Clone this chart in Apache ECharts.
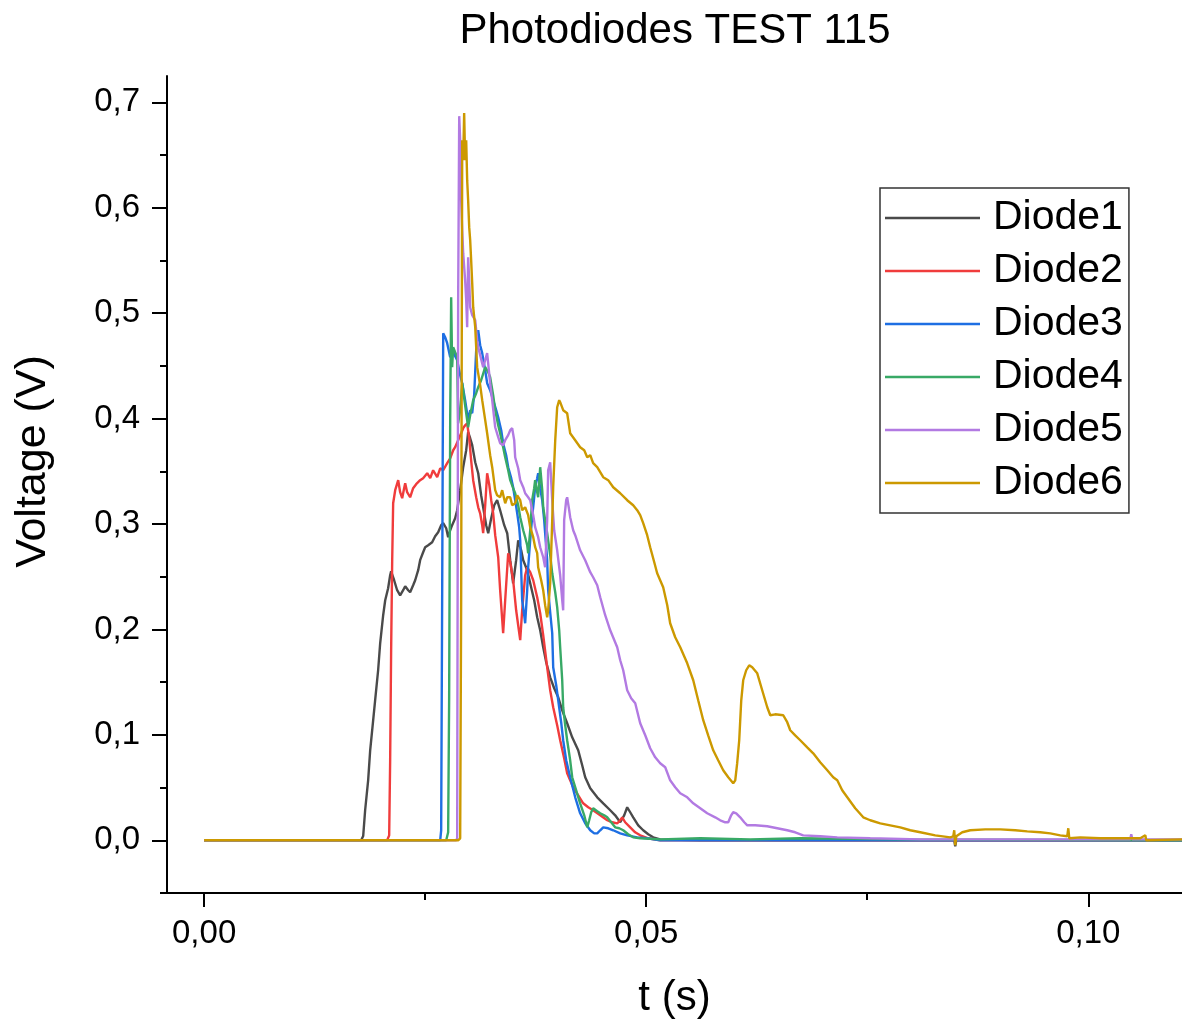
<!DOCTYPE html>
<html><head><meta charset="utf-8">
<script src="https://cdn.jsdelivr.net/npm/echarts@6/dist/echarts.min.js"></script>
<style>html,body{margin:0;padding:0;background:#fff}#c{width:1182px;height:1024px}</style>
</head><body><div id="c"></div>
<script>
const titleText = 'Photodiodes TEST 115';
const seriesNames = ['Diode1','Diode2','Diode3','Diode4','Diode5','Diode6'];
const xMajorTicks = [0, 0.05, 0.10];
const xMinorTicks = [0.025, 0.075];
const yMajorTicks = [0, 0.1, 0.2, 0.3, 0.4, 0.5, 0.6, 0.7];
const yMinorTicks = [-0.05, 0.05, 0.15, 0.25, 0.35, 0.45, 0.55, 0.65];

const diode1 = [[0,0],[0.01776,0],[0.01799,0.004],[0.01821,0.0285],[0.01855,0.0569],[0.01878,0.0854],[0.01912,0.1139],[0.01934,0.1328],[0.01968,0.1613],[0.01991,0.1869],[0.02025,0.2135],[0.02048,0.2277],[0.02081,0.2391],[0.02104,0.2514],[0.02115,0.2552],[0.02149,0.2467],[0.02183,0.2372],[0.02217,0.2324],[0.02251,0.2372],[0.02274,0.2410],[0.02308,0.2372],[0.02330,0.2353],[0.02364,0.2419],[0.02387,0.2467],[0.02421,0.2562],[0.02443,0.2657],[0.02477,0.2732],[0.02500,0.2780],[0.02534,0.2799],[0.02579,0.2827],[0.02613,0.2884],[0.02647,0.2922],[0.02681,0.2989],[0.02704,0.3008],[0.02738,0.2960],[0.02760,0.2875],[0.02783,0.2941],[0.02805,0.2989],[0.02839,0.3055],[0.02862,0.3131],[0.02896,0.3321],[0.02930,0.3539],[0.02964,0.3700],[0.02986,0.3871],[0.03009,0.3814],[0.03032,0.3748],[0.03066,0.3586],[0.03100,0.3482],[0.03133,0.3273],[0.03156,0.3159],[0.03190,0.2989],[0.03213,0.2913],[0.03247,0.3055],[0.03281,0.3178],[0.03314,0.3226],[0.03348,0.3131],[0.03394,0.2989],[0.03428,0.2913],[0.03462,0.2657],[0.03495,0.2438],[0.03529,0.2657],[0.03552,0.2846],[0.03586,0.2751],[0.03609,0.2657],[0.03654,0.2562],[0.03688,0.2438],[0.03733,0.2277],[0.03767,0.2116],[0.03801,0.1992],[0.03835,0.1831],[0.03869,0.1689],[0.03914,0.1546],[0.03959,0.1442],[0.04005,0.1357],[0.04050,0.1233],[0.04106,0.1110],[0.04163,0.0977],[0.04231,0.0854],[0.04276,0.0712],[0.04310,0.0598],[0.04367,0.0493],[0.04446,0.0408],[0.04514,0.0351],[0.04593,0.0285],[0.04649,0.0237],[0.04706,0.0171],[0.04751,0.0237],[0.04785,0.0313],[0.04819,0.0266],[0.04853,0.0218],[0.04910,0.0142],[0.04966,0.0095],[0.05023,0.0057],[0.05079,0.0028],[0.05158,0.0009],[0.05611,0],[0.06742,0],[0.07873,0],[0.08484,0],[0.08495,-0.0057],[0.08507,0],[0.09005,0],[0.11063,0]];

const diode2 = [[0,0],[0.02070,0],[0.02093,0.0047],[0.02104,0.0759],[0.02115,0.1803],[0.02127,0.2657],[0.02138,0.3197],[0.02161,0.3321],[0.02195,0.3416],[0.02217,0.3302],[0.02240,0.3245],[0.02262,0.3340],[0.02274,0.3387],[0.02296,0.3302],[0.02330,0.3254],[0.02364,0.3340],[0.02398,0.3378],[0.02443,0.3416],[0.02477,0.3435],[0.02523,0.3482],[0.02557,0.3435],[0.02590,0.3510],[0.02636,0.3444],[0.02670,0.3529],[0.02704,0.3510],[0.02749,0.3577],[0.02783,0.3624],[0.02817,0.3700],[0.02839,0.3729],[0.02873,0.3795],[0.02907,0.3861],[0.02930,0.3909],[0.02952,0.3937],[0.02975,0.3956],[0.02998,0.3814],[0.03020,0.3605],[0.03043,0.3416],[0.03077,0.3254],[0.03100,0.3159],[0.03122,0.3102],[0.03145,0.2989],[0.03156,0.2913],[0.03179,0.3178],[0.03201,0.3482],[0.03224,0.3378],[0.03247,0.3226],[0.03269,0.3102],[0.03292,0.2894],[0.03326,0.2685],[0.03348,0.2372],[0.03382,0.1964],[0.03405,0.2277],[0.03439,0.2723],[0.03462,0.2638],[0.03495,0.2467],[0.03529,0.2182],[0.03552,0.2040],[0.03575,0.1898],[0.03597,0.2182],[0.03631,0.2514],[0.03654,0.2590],[0.03688,0.2543],[0.03722,0.2467],[0.03767,0.2306],[0.03801,0.2154],[0.03835,0.1945],[0.03880,0.1641],[0.03914,0.1423],[0.03948,0.1262],[0.03993,0.1091],[0.04027,0.0949],[0.04072,0.0778],[0.04106,0.0636],[0.04140,0.0569],[0.04174,0.0503],[0.04231,0.0427],[0.04287,0.0351],[0.04344,0.0313],[0.04400,0.0285],[0.04480,0.0237],[0.04559,0.0190],[0.04615,0.0171],[0.04672,0.0161],[0.04706,0.0190],[0.04729,0.0218],[0.04762,0.0171],[0.04819,0.0123],[0.04875,0.0076],[0.04932,0.0047],[0.05023,0.0019],[0.05158,0],[0.11063,0]];

const diode3 = [[0,0],[0.02670,0],[0.02681,0.0095],[0.02692,0.2277],[0.02704,0.4810],[0.02726,0.4772],[0.02749,0.4715],[0.02783,0.4583],[0.02817,0.4630],[0.02862,0.4554],[0.02896,0.4412],[0.02919,0.4336],[0.02952,0.4175],[0.02986,0.3985],[0.03009,0.4080],[0.03032,0.4051],[0.03054,0.4222],[0.03077,0.4649],[0.03100,0.4839],[0.03122,0.4696],[0.03145,0.4621],[0.03179,0.4459],[0.03201,0.4336],[0.03235,0.4269],[0.03269,0.4175],[0.03303,0.4080],[0.03326,0.4013],[0.03360,0.3890],[0.03382,0.3767],[0.03416,0.3653],[0.03439,0.3539],[0.03473,0.3435],[0.03495,0.3349],[0.03518,0.3226],[0.03541,0.3102],[0.03563,0.2970],[0.03575,0.2846],[0.03586,0.2562],[0.03597,0.2277],[0.03620,0.2135],[0.03631,0.2059],[0.03654,0.2372],[0.03665,0.2590],[0.03688,0.2846],[0.03710,0.3065],[0.03733,0.3254],[0.03744,0.3349],[0.03767,0.3435],[0.03778,0.3482],[0.03801,0.3340],[0.03824,0.3226],[0.03846,0.3036],[0.03857,0.2913],[0.03880,0.2657],[0.03891,0.2372],[0.03914,0.2163],[0.03937,0.1964],[0.03948,0.1641],[0.03982,0.1471],[0.04005,0.1328],[0.04038,0.1120],[0.04061,0.0949],[0.04095,0.0759],[0.04140,0.0598],[0.04197,0.0408],[0.04253,0.0256],[0.04310,0.0161],[0.04367,0.0095],[0.04412,0.0066],[0.04446,0.0066],[0.04480,0.0095],[0.04514,0.0123],[0.04570,0.0114],[0.04627,0.0095],[0.04706,0.0066],[0.04785,0.0047],[0.04898,0.0028],[0.05011,0.0019],[0.05158,0],[0.11063,0]];

const diode4 = [[0,0],[0.02738,0],[0.02760,0.0076],[0.02771,0.1328],[0.02783,0.3985],[0.02794,0.5152],[0.02805,0.4488],[0.02817,0.4677],[0.02839,0.4630],[0.02862,0.4583],[0.02873,0.3956],[0.02896,0.4080],[0.02919,0.4336],[0.02952,0.4127],[0.02986,0.3918],[0.03009,0.4032],[0.03043,0.4175],[0.03077,0.4241],[0.03100,0.4298],[0.03133,0.4364],[0.03179,0.4488],[0.03213,0.4440],[0.03235,0.4393],[0.03269,0.4222],[0.03292,0.4080],[0.03326,0.3937],[0.03348,0.3861],[0.03382,0.3729],[0.03405,0.3634],[0.03439,0.3510],[0.03462,0.3416],[0.03495,0.3340],[0.03518,0.3292],[0.03552,0.3178],[0.03575,0.3065],[0.03609,0.2941],[0.03631,0.2875],[0.03654,0.2799],[0.03665,0.2723],[0.03688,0.2941],[0.03710,0.3226],[0.03733,0.3340],[0.03744,0.3416],[0.03767,0.3302],[0.03778,0.3254],[0.03801,0.3539],[0.03824,0.3321],[0.03835,0.3159],[0.03857,0.3036],[0.03880,0.2913],[0.03914,0.2704],[0.03937,0.2533],[0.03971,0.2353],[0.03993,0.2211],[0.04016,0.1992],[0.04027,0.1831],[0.04050,0.1518],[0.04061,0.1262],[0.04084,0.1091],[0.04106,0.0949],[0.04140,0.0759],[0.04163,0.0598],[0.04208,0.0474],[0.04253,0.0351],[0.04299,0.0237],[0.04333,0.0123],[0.04355,0.0190],[0.04378,0.0266],[0.04400,0.0304],[0.04446,0.0275],[0.04480,0.0256],[0.04525,0.0237],[0.04559,0.0218],[0.04604,0.0171],[0.04649,0.0123],[0.04695,0.0114],[0.04740,0.0095],[0.04796,0.0057],[0.04853,0.0028],[0.04932,0.0019],[0.05158,0.0009],[0.05611,0.0019],[0.06176,0.0009],[0.06742,0.0019],[0.07873,0.0009],[0.11063,0]];

const diode5 = [[0,0],[0.02851,0],[0.02862,0.0019],[0.02873,0.5123],[0.02885,0.6869],[0.02896,0.6641],[0.02907,0.6072],[0.02919,0.5787],[0.02930,0.5569],[0.02952,0.5313],[0.02964,0.5123],[0.02975,0.4867],[0.02986,0.5531],[0.02998,0.5313],[0.03009,0.5057],[0.03032,0.4981],[0.03066,0.4934],[0.03088,0.4744],[0.03100,0.4677],[0.03122,0.4602],[0.03156,0.4488],[0.03179,0.4554],[0.03201,0.4621],[0.03235,0.4336],[0.03258,0.4175],[0.03292,0.3918],[0.03326,0.3824],[0.03348,0.3767],[0.03382,0.3748],[0.03405,0.3795],[0.03439,0.3843],[0.03462,0.3890],[0.03484,0.3909],[0.03507,0.3795],[0.03518,0.3634],[0.03552,0.3529],[0.03575,0.3416],[0.03609,0.3349],[0.03631,0.3292],[0.03665,0.3254],[0.03688,0.3226],[0.03722,0.3084],[0.03744,0.2970],[0.03778,0.2875],[0.03801,0.2780],[0.03835,0.2685],[0.03857,0.2590],[0.03880,0.3036],[0.03891,0.3510],[0.03914,0.3586],[0.03937,0.3226],[0.03959,0.2941],[0.03993,0.2751],[0.04027,0.2514],[0.04050,0.2277],[0.04061,0.2182],[0.04072,0.3036],[0.04095,0.3226],[0.04106,0.3254],[0.04129,0.3131],[0.04140,0.3065],[0.04174,0.2941],[0.04197,0.2894],[0.04253,0.2751],[0.04310,0.2657],[0.04367,0.2543],[0.04400,0.2495],[0.04446,0.2419],[0.04480,0.2306],[0.04536,0.2135],[0.04593,0.1992],[0.04672,0.1831],[0.04706,0.1708],[0.04740,0.1613],[0.04785,0.1423],[0.04830,0.1347],[0.04876,0.1300],[0.04932,0.1110],[0.04989,0.0996],[0.05045,0.0873],[0.05102,0.0787],[0.05158,0.0731],[0.05215,0.0693],[0.05271,0.0569],[0.05328,0.0503],[0.05385,0.0446],[0.05464,0.0408],[0.05532,0.0351],[0.05611,0.0304],[0.05690,0.0256],[0.05780,0.0218],[0.05837,0.0190],[0.05894,0.0171],[0.05928,0.0171],[0.05961,0.0237],[0.05984,0.0266],[0.06018,0.0256],[0.06063,0.0218],[0.06109,0.0171],[0.06143,0.0142],[0.06233,0.0142],[0.06369,0.0133],[0.06482,0.0114],[0.06595,0.0095],[0.06685,0.0076],[0.06776,0.0047],[0.06968,0.0038],[0.07161,0.0028],[0.07534,0.0019],[0.08100,0.0009],[0.09005,0.0009],[0.10475,0.0009],[0.10486,0.0057],[0.10498,0.0009],[0.11063,0.0009]];

const diode6 = [[0,0],[0.02873,0],[0.02896,0.0019],[0.02907,0.2277],[0.02919,0.6641],[0.02930,0.6452],[0.02941,0.6898],[0.02952,0.6452],[0.02964,0.6641],[0.02975,0.6262],[0.02986,0.6072],[0.02998,0.5816],[0.03009,0.5693],[0.03020,0.5503],[0.03032,0.5285],[0.03043,0.5057],[0.03066,0.4867],[0.03088,0.4488],[0.03122,0.4317],[0.03145,0.4175],[0.03179,0.3985],[0.03201,0.3861],[0.03235,0.3653],[0.03258,0.3539],[0.03292,0.3321],[0.03314,0.3273],[0.03348,0.3254],[0.03371,0.3321],[0.03405,0.3197],[0.03428,0.3254],[0.03462,0.3254],[0.03484,0.3178],[0.03518,0.3197],[0.03541,0.3273],[0.03575,0.3226],[0.03597,0.3131],[0.03631,0.3159],[0.03665,0.3084],[0.03688,0.2970],[0.03722,0.2875],[0.03744,0.2780],[0.03767,0.2723],[0.03778,0.2590],[0.03812,0.2467],[0.03835,0.2372],[0.03857,0.2230],[0.03880,0.2116],[0.03891,0.2182],[0.03914,0.2438],[0.03937,0.3036],[0.03948,0.3349],[0.03971,0.3795],[0.03993,0.4108],[0.04016,0.4175],[0.04027,0.4156],[0.04061,0.4080],[0.04106,0.4051],[0.04140,0.3861],[0.04197,0.3795],[0.04253,0.3729],[0.04299,0.3700],[0.04333,0.3634],[0.04367,0.3653],[0.04400,0.3577],[0.04446,0.3539],[0.04514,0.3444],[0.04570,0.3416],[0.04627,0.3349],[0.04706,0.3292],[0.04785,0.3226],[0.04853,0.3178],[0.04898,0.3131],[0.04932,0.3084],[0.04966,0.3008],[0.05011,0.2894],[0.05045,0.2780],[0.05091,0.2638],[0.05124,0.2533],[0.05158,0.2467],[0.05192,0.2400],[0.05238,0.2230],[0.05271,0.2059],[0.05328,0.1926],[0.05385,0.1831],[0.05464,0.1679],[0.05532,0.1518],[0.05588,0.1328],[0.05645,0.1139],[0.05701,0.0996],[0.05758,0.0854],[0.05814,0.0759],[0.05871,0.0664],[0.05928,0.0598],[0.05984,0.0541],[0.06007,0.0569],[0.06029,0.0731],[0.06052,0.0949],[0.06075,0.1328],[0.06097,0.1518],[0.06131,0.1613],[0.06165,0.1660],[0.06199,0.1641],[0.06256,0.1584],[0.06312,0.1423],[0.06369,0.1262],[0.06403,0.1186],[0.06459,0.1195],[0.06550,0.1186],[0.06595,0.1120],[0.06629,0.1044],[0.06685,0.0996],[0.06742,0.0949],[0.06821,0.0882],[0.06889,0.0825],[0.06968,0.0740],[0.07048,0.0664],[0.07115,0.0598],[0.07161,0.0569],[0.07217,0.0474],[0.07274,0.0408],[0.07364,0.0304],[0.07455,0.0218],[0.07534,0.0190],[0.07647,0.0161],[0.07760,0.0142],[0.07873,0.0123],[0.07986,0.0095],[0.08100,0.0076],[0.08269,0.0047],[0.08439,0.0028],[0.08473,0.0038],[0.08484,0.0095],[0.08495,-0.0047],[0.08507,0.0038],[0.08575,0.0076],[0.08665,0.0095],[0.08835,0.0104],[0.09005,0.0104],[0.09174,0.0095],[0.09310,0.0085],[0.09457,0.0076],[0.09570,0.0066],[0.09683,0.0047],[0.09762,0.0038],[0.09774,0.0114],[0.09785,0.0019],[0.09909,0.0028],[0.10136,0.0019],[0.10588,0.0019],[0.10645,0.0047],[0.10656,0],[0.11063,0.0009]];

const seriesData = [diode1, diode2, diode3, diode4, diode5, diode6];
const colors = ['#4a4a4a', '#f03c3c', '#1e6fe3', '#38a966', '#b27ae2', '#cc9900'];

const FONT = '"Liberation Sans", Arial, sans-serif';
const fmtX = v => v.toFixed(2).replace('.', ',');
const fmtY = v => v.toFixed(1).replace('.', ',');

const chart = echarts.init(document.getElementById('c'), null, {renderer: 'canvas'});
chart.setOption({
  animation: false,
  backgroundColor: '#fff',
  textStyle: {fontFamily: FONT},
  title: {
    text: titleText, left: 670, top: 5, textAlign: 'center',
    textStyle: {fontSize: 42, fontWeight: 'normal', color: '#000', fontFamily: FONT}
  },
  legend: {
    orient: 'vertical', left: 880, top: 188,
    padding: [9, 6, 9, 5],
    icon: 'rect',
    itemWidth: 95, itemHeight: 2.5, itemGap: 11,
    backgroundColor: '#fff', borderColor: '#333', borderWidth: 1.5, borderRadius: 0,
    textStyle: {fontSize: 41, color: '#000', fontFamily: FONT, padding: [0, 0, 0, 8], lineHeight: 42},
    data: seriesNames
  },
  grid: {left: 167, right: 0, top: 76, bottom: 131, containLabel: false, outerBoundsMode: 'none'},
  xAxis: [{
    type: 'value', min: -0.0042, max: 0.1106, position: 'bottom',
    name: 't (s)', nameLocation: 'middle', nameGap: 84,
    nameTextStyle: {fontSize: 42, color: '#000', fontFamily: FONT},
    axisLine: {show: true, onZero: false, lineStyle: {color: '#000', width: 2}},
    axisTick: {show: true, inside: false, length: 14, customValues: xMajorTicks, lineStyle: {color: '#000', width: 2}},
    axisLabel: {show: true, customValues: xMajorTicks, formatter: fmtX, fontSize: 33, color: '#000', margin: 24, fontFamily: FONT},
    splitLine: {show: false}
  }, {
    type: 'value', min: -0.0042, max: 0.1106, position: 'bottom',
    axisLine: {show: false, onZero: false},
    axisTick: {show: true, inside: false, length: 7, customValues: xMinorTicks, lineStyle: {color: '#000', width: 2}},
    axisLabel: {show: false},
    splitLine: {show: false}
  }],
  yAxis: [{
    type: 'value', min: -0.05, max: 0.725, position: 'left',
    name: 'Voltage (V)', nameLocation: 'middle', nameGap: 112,
    nameTextStyle: {fontSize: 43, color: '#000', fontFamily: FONT, padding: [0, 0, 0, 46]},
    axisLine: {show: true, onZero: false, lineStyle: {color: '#000', width: 2}},
    axisTick: {show: true, inside: false, length: 15, customValues: yMajorTicks, lineStyle: {color: '#000', width: 2}},
    axisLabel: {show: true, customValues: yMajorTicks, formatter: fmtY, fontSize: 33, color: '#000', margin: 27, fontFamily: FONT},
    splitLine: {show: false}
  }, {
    type: 'value', min: -0.05, max: 0.725, position: 'left',
    axisLine: {show: false, onZero: false},
    axisTick: {show: true, inside: false, length: 7, customValues: yMinorTicks, lineStyle: {color: '#000', width: 2}},
    axisLabel: {show: false},
    splitLine: {show: false}
  }],
  series: seriesNames.map((n, i) => ({
    name: n, type: 'line', data: seriesData[i], xAxisIndex: 0, yAxisIndex: 0,
    symbol: 'none', showSymbol: false, smooth: false,
    color: colors[i],
    lineStyle: {color: colors[i], width: 2.4},
    emphasis: {disabled: true}, z: 2 + i
  }))
});
</script>
</body></html>
